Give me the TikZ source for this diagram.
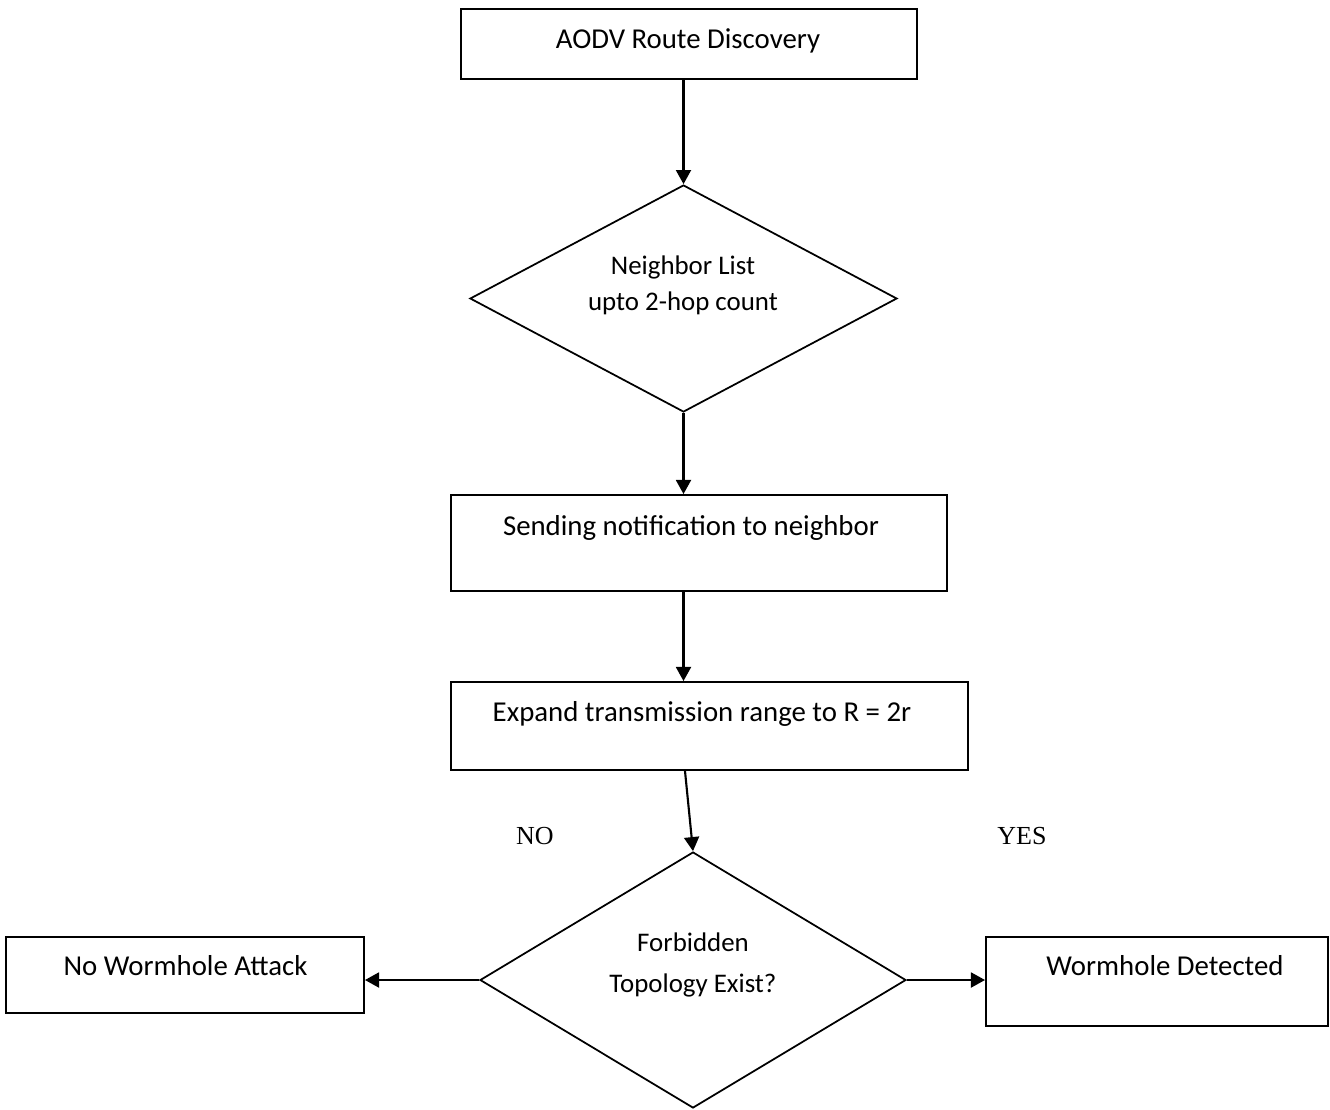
\documentclass[tikz,border=0pt]{standalone}
\usepackage{fontspec}
\setmainfont{Carlito}
\newfontfamily\timesf{Liberation Serif}
\usetikzlibrary{arrows.meta,shapes.geometric}
\begin{document}
\begin{tikzpicture}[x=0.02cm,y=-0.02cm,
  box/.style={draw,line width=1.1pt,rectangle,inner sep=0pt},
  dia/.style={draw,line width=1pt,diamond,inner sep=0pt},
  txt/.style={anchor=base,inner sep=0pt,font=\fontsize{16.4pt}{18pt}\selectfont},
  dtxt/.style={anchor=base,inner sep=0pt,font=\fontsize{15.3pt}{17pt}\selectfont},
  lbl/.style={anchor=base,inner sep=0pt,font=\timesf\fontsize{14.8pt}{17pt}\selectfont},
  arr/.style={line width=1.2pt,-{Triangle[length=8pt,width=8.5pt]}}]
\clip (0,0) rectangle (1330,1110);
\fill[white] (0,0) rectangle (1330,1110);
% boxes
\node[box,minimum width={456*0.02cm},minimum height={70*0.02cm}] (b1) at (689,44) {};
\node[txt] (t1) at (688,48) {AODV Route Discovery};
\node[dia,minimum width={427*0.02cm},minimum height={227*0.02cm}] (d1) at (683.5,298.5) {};
\node[dtxt] (t2a) at (683,274) {Neighbor List};
\node[dtxt] (t2b) at (683,310) {upto 2-hop count};
\node[box,minimum width={496*0.02cm},minimum height={96*0.02cm}] (b3) at (699,543) {};
\node[txt] (t3) at (691,535) {Sending notification to neighbor};
\node[box,minimum width={517*0.02cm},minimum height={88*0.02cm}] (b4) at (709.5,726) {};
\node[txt] (t4) at (702,721) {Expand transmission range to R = 2r};
\node[dia,minimum width={426*0.02cm},minimum height={256*0.02cm}] (d2) at (693,980) {};
\node[dtxt] (t5a) at (693,951) {Forbidden};
\node[dtxt] (t5b) at (693,992) {Topology Exist?};
\node[box,minimum width={358*0.02cm},minimum height={76*0.02cm}] (bl) at (185,975) {};
\node[txt] (tl) at (185.5,975) {No Wormhole Attack};
\node[box,minimum width={342*0.02cm},minimum height={89*0.02cm}] (br) at (1157,981.5) {};
\node[txt] (tr) at (1165,975) {Wormhole Detected};
\node[lbl] (no) at (535,844) {NO};
\node[lbl] (yes) at (1022,844) {YES};
% connectors
\draw[arr] (b1.south -| d1.north) -- (d1.north);
\draw[arr] (d1.south) -- (d1.south |- b3.north);
\draw[arr] (b3.south -| d1.south) -- (b4.north -| d1.south);
\draw[arr] ([xshift={-24.5*0.02cm}]b4.south) -- (d2.north);
\draw[arr] (d2.west) -- (bl.east |- d2.west);
\draw[arr] (d2.east) -- (br.west |- d2.east);
\end{tikzpicture}
\end{document}
